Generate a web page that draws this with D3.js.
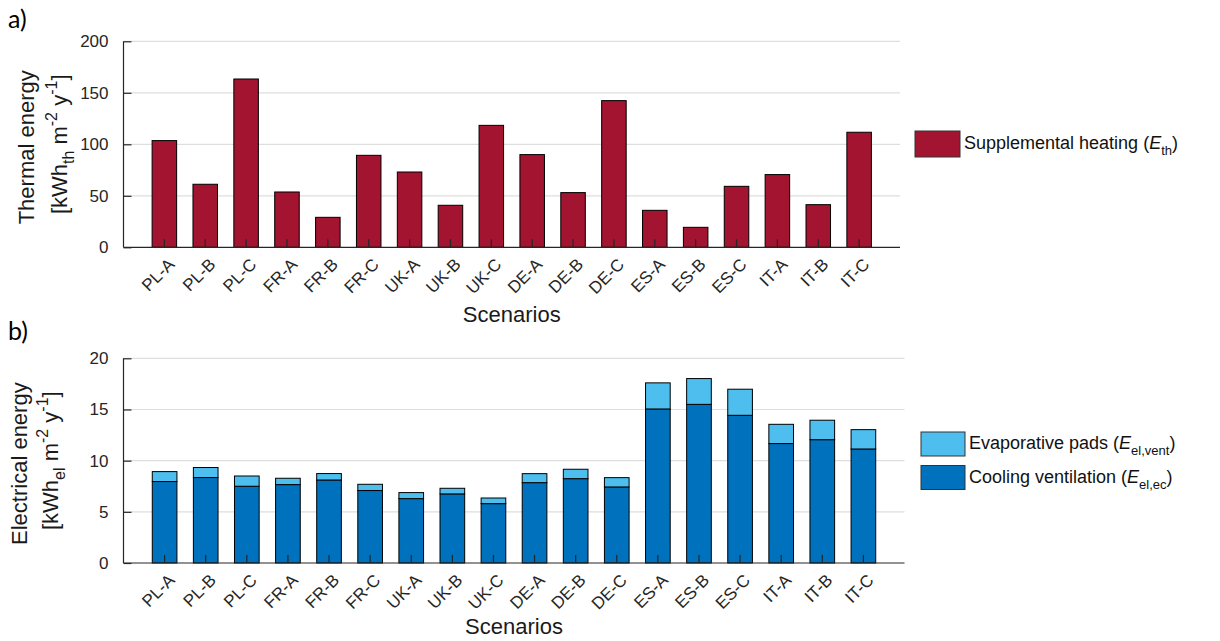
<!DOCTYPE html>
<html>
<head>
<meta charset="utf-8">
<script src="https://cdn.jsdelivr.net/npm/d3@7"></script>
<style>
  html, body { margin: 0; padding: 0; background: #fff; }
  svg { display: block; font-family: "Liberation Sans", Arial, Helvetica, sans-serif; }
</style>
</head>
<body>
<svg id="chart" width="1220" height="641"></svg>
<script>
// Scenario names shared by both panels
const scenarios = ["PL-A","PL-B","PL-C","FR-A","FR-B","FR-C","UK-A","UK-B","UK-C",
                   "DE-A","DE-B","DE-C","ES-A","ES-B","ES-C","IT-A","IT-B","IT-C"];

// Panel a: supplemental heating demand, kWh_th m^-2 y^-1
const heating = [103.6, 61.2, 163.4, 53.7, 29.1, 89.3, 73.1, 40.8, 118.4,
                 90.0, 53.1, 142.4, 35.9, 19.4, 59.2, 70.6, 41.4, 111.7];

// Panel b: electrical demand, kWh_el m^-2 y^-1
const coolingVent = [7.96, 8.35, 7.50, 7.66, 8.11, 7.08, 6.29, 6.75, 5.80,
                     7.85, 8.24, 7.43, 15.05, 15.50, 14.43, 11.67, 12.05, 11.14];
const evapPads    = [0.97, 0.98, 1.00, 0.62, 0.63, 0.61, 0.59, 0.55, 0.55,
                     0.88, 0.92, 0.91, 2.55, 2.52, 2.55, 1.88, 1.90, 1.89];

const ticksA = [0, 50, 100, 150, 200];
const ticksB = [0, 5, 10, 15, 20];

const colHeat = "#A2142F", colVent = "#0072BD", colEvap = "#4DBEEE";
const axisCol = "#262626", gridCol = "#dedede";

const svg = d3.select("#chart");

function panel(cfg) {
  const x = d3.scaleBand().domain(scenarios).range([cfg.x0, cfg.x1])
    .paddingInner(0.4).paddingOuter(0.7);
  const y = d3.scaleLinear().domain([cfg.ticks[0], cfg.ticks[cfg.ticks.length - 1]])
    .range([cfg.yb, cfg.yt]);
  const g = svg.append("g");

  // horizontal gridlines
  g.append("g").selectAll("line").data(cfg.ticks.slice(1)).join("line")
    .attr("x1", cfg.x0).attr("x2", cfg.x1)
    .attr("y1", d => y(d)).attr("y2", d => y(d))
    .attr("stroke", gridCol).attr("stroke-width", 1.2);

  cfg.drawBars(g, x, y);

  // y axis: inward ticks, labels on the left
  const ya = d3.axisLeft(y).tickValues(cfg.ticks).tickSize(-8).tickPadding(15);
  const yg = g.append("g").attr("transform", `translate(${cfg.x0},0)`).call(ya);
  yg.select(".domain").attr("stroke", axisCol).attr("stroke-width", 1.2)
    .attr("d", `M0,${cfg.yb}V${cfg.yt}`);
  yg.selectAll(".tick line").attr("stroke", axisCol).attr("stroke-width", 1.2);
  yg.selectAll(".tick text").attr("fill", axisCol)
    .style("font-size", "17px").style("font-family", "inherit");

  // x axis: inward ticks, rotated scenario labels
  const xa = d3.axisBottom(x).tickSize(-8).tickSizeOuter(0).tickFormat("");
  const xg = g.append("g").attr("transform", `translate(0,${cfg.yb})`).call(xa);
  xg.select(".domain").attr("stroke", axisCol).attr("stroke-width", 1.2)
    .attr("d", `M${cfg.x0},0H${cfg.x1}`);
  xg.selectAll(".tick line").attr("stroke", axisCol).attr("stroke-width", 1.2);
  g.append("g").selectAll("text").data(scenarios).join("text")
    .attr("transform", d => `translate(${x(d) + x.bandwidth() / 2 + 7},${cfg.yb + 14}) rotate(-45)`)
    .attr("text-anchor", "end").attr("dy", "0.35em")
    .attr("fill", axisCol).style("font-size", "17px")
    .text(d => d);

  // x axis title
  g.append("text").attr("x", (cfg.x0 + cfg.x1) / 2).attr("y", cfg.yb + cfg.titleGap)
    .attr("text-anchor", "middle").attr("fill", "#1a1a1a")
    .style("font-size", "22px").text("Scenarios");

  // y axis title, two rotated lines
  const cy = (cfg.yt + cfg.yb) / 2;
  g.append("text").attr("transform", `translate(${cfg.l1x},${cy + 3}) rotate(-90)`)
    .attr("text-anchor", "middle").attr("fill", "#1a1a1a")
    .style("font-size", "22px").text(cfg.label1);
  const t2 = g.append("text").attr("transform", `translate(${cfg.l2x},${cy}) rotate(-90)`)
    .attr("text-anchor", "middle").attr("fill", "#1a1a1a").style("font-size", "22px");
  t2.append("tspan").text("[kWh");
  t2.append("tspan").attr("dy", 7).style("font-size", "16px").text(cfg.sub);
  t2.append("tspan").attr("dy", -7).text(" m");
  t2.append("tspan").attr("dy", -10).style("font-size", "16px").text("-2");
  t2.append("tspan").attr("dy", 10).text(" y");
  t2.append("tspan").attr("dy", -10).style("font-size", "16px").text("-1");
  t2.append("tspan").attr("dy", 10).text("]");
  return { x, y };
}

// legend entry: swatch + label with italic E and subscript
function legendItem(bx, by, bw, bh, color, text, sub) {
  svg.append("rect").attr("x", bx).attr("y", by).attr("width", bw).attr("height", bh)
    .attr("fill", color).attr("stroke", "#333").attr("stroke-width", 1);
  const t = svg.append("text").attr("x", bx + bw + 4).attr("y", by + bh / 2 + 5)
    .attr("fill", "#111").style("font-size", "18px");
  t.append("tspan").text(text + " (");
  t.append("tspan").style("font-style", "italic").text("E");
  t.append("tspan").attr("dy", 6).style("font-size", "13px").text(sub);
  t.append("tspan").attr("dy", -6).text(")");
}

// ---- Panel a ----
panel({
  x0: 123.5, x1: 900, yt: 41.3, yb: 247.3, ticks: ticksA, titleGap: 75,
  l1x: 34, l2x: 67, label1: "Thermal energy", sub: "th",
  drawBars: (g, x, y) => {
    g.append("g").selectAll("rect").data(heating).join("rect")
      .attr("x", (d, i) => x(scenarios[i])).attr("width", x.bandwidth())
      .attr("y", d => y(d)).attr("height", d => y(0) - y(d))
      .attr("fill", colHeat).attr("stroke", "#000").attr("stroke-width", 1);
  }
});

// ---- Panel b ----
const rowsB = scenarios.map((s, i) => ({ s, vent: coolingVent[i], evap: evapPads[i] }));
const stackB = d3.stack().keys(["vent", "evap"])(rowsB);
const stackCols = { vent: colVent, evap: colEvap };
panel({
  x0: 123.5, x1: 904.5, yt: 358.3, yb: 563, ticks: ticksB, titleGap: 71,
  l1x: 27, l2x: 58, label1: "Electrical energy", sub: "el",
  drawBars: (g, x, y) => {
    g.append("g").selectAll("g").data(stackB).join("g")
      .attr("fill", d => stackCols[d.key])
      .selectAll("rect").data(d => d).join("rect")
      .attr("x", d => x(d.data.s)).attr("width", x.bandwidth())
      .attr("y", d => y(d[1])).attr("height", d => y(d[0]) - y(d[1]))
      .attr("stroke", "#000").attr("stroke-width", 1);
  }
});

// legends
legendItem(915, 131, 45, 26, colHeat, "Supplemental heating", "th");
legendItem(921, 432, 44, 24, colEvap, "Evaporative pads", "el,vent");
legendItem(921, 465.5, 44, 24, colVent, "Cooling ventilation", "el,ec");

// panel tags
svg.append("text").attr("x", 8).attr("y", 28).style("font-family", "Lato, 'Open Sans', sans-serif")
  .style("font-size", "25px").attr("fill", "#000").text("a)");
svg.append("text").attr("x", 8).attr("y", 340).style("font-family", "Lato, 'Open Sans', sans-serif")
  .style("font-size", "25px").attr("fill", "#000").text("b)");
</script>
</body>
</html>
